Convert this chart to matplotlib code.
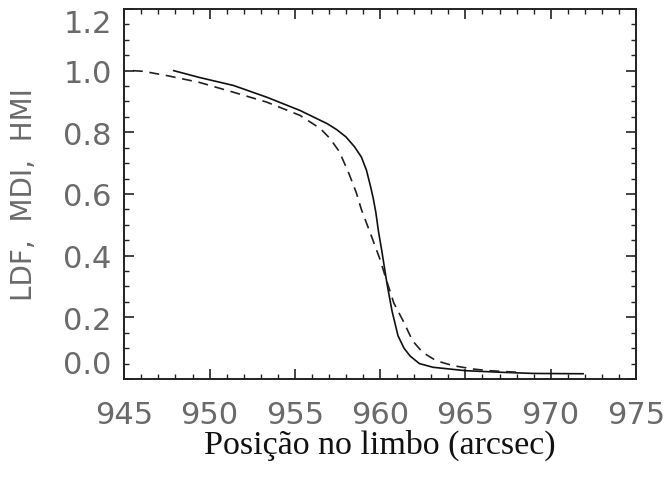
import numpy as np
import matplotlib.pyplot as plt
from matplotlib.ticker import MultipleLocator

# Solid curve
solid_x = [947.9, 949.4, 951.4, 953.35, 955.3, 956.9, 957.45, 958.0, 958.5, 958.9,
           959.2, 959.44, 959.6, 959.75, 959.9, 960.1, 960.4, 960.7, 961.05, 961.4,
           961.75, 962.3, 963.1, 965.0, 967.0, 969.0, 971.9]
solid_y = [1.0, 0.978, 0.952, 0.914, 0.871, 0.828, 0.809, 0.785, 0.753, 0.72,
           0.677, 0.624, 0.585, 0.54, 0.48, 0.415, 0.31, 0.22, 0.14, 0.10,
           0.075, 0.05, 0.038, 0.027, 0.022, 0.018, 0.017]

# Dashed curve
dash_x = [945.5, 946.1, 947.5, 949.4, 951.4, 953.35, 955.3, 956.5, 957.06, 957.6,
          958.13, 958.6, 958.9, 959.5, 960.0, 960.3, 960.8, 961.4, 961.9, 962.5,
          963.3, 964.3, 965.5, 966.4, 968.0]
dash_y = [1.0, 0.998, 0.984, 0.962, 0.930, 0.898, 0.855, 0.812, 0.78, 0.738,
          0.672, 0.605, 0.55, 0.462, 0.387, 0.333, 0.247, 0.183, 0.124, 0.086,
          0.059, 0.043, 0.032, 0.027, 0.022]

x_ticks = [945, 950, 955, 960, 965, 970, 975]
y_ticks = [0.0, 0.2, 0.4, 0.6, 0.8, 1.0, 1.2]

fig = plt.figure(figsize=(6.66, 4.85), dpi=100)
ax = fig.add_axes([0.1866, 0.2165, 0.7683, 0.7629])

ax.plot(solid_x, solid_y, color='#111111', lw=1.2)
ax.plot(dash_x, dash_y, color='#222222', lw=1.2, dashes=(6, 4))

ax.set_xlim(945, 975)
ax.set_ylim(0, 1.2)
ax.set_xticks(x_ticks)
ax.set_yticks(y_ticks)
ax.set_yticklabels(['%.1f' % v for v in y_ticks])
ax.xaxis.set_minor_locator(MultipleLocator(1))
ax.yaxis.set_minor_locator(MultipleLocator(0.05))

ax.tick_params(which='both', direction='in', top=True, right=True, colors='#222222')
ax.tick_params(which='major', length=7, width=1.2)
ax.tick_params(which='minor', length=3.5, width=1.0)
ax.tick_params(axis='x', which='major', labelsize=22, labelcolor='#6a6a6a', pad=15)
ax.tick_params(axis='y', which='major', labelsize=22, labelcolor='#6a6a6a', pad=9)

for s in ax.spines.values():
    s.set_linewidth(1.4)
    s.set_color('#222222')

# IDL style: end labels sit inside the range
ylabels = ax.get_yticklabels()
ylabels[0].set_va('bottom')
ylabels[-1].set_va('top')

ax.set_ylabel('LDF,  MDI,  HMI', fontsize=20, color='#6a6a6a', labelpad=18)
ax.set_xlabel('Posição no limbo (arcsec)', fontsize=24.5, family='Liberation Serif',
              color='#111111', labelpad=0)

plt.savefig('out.png', dpi=100)
